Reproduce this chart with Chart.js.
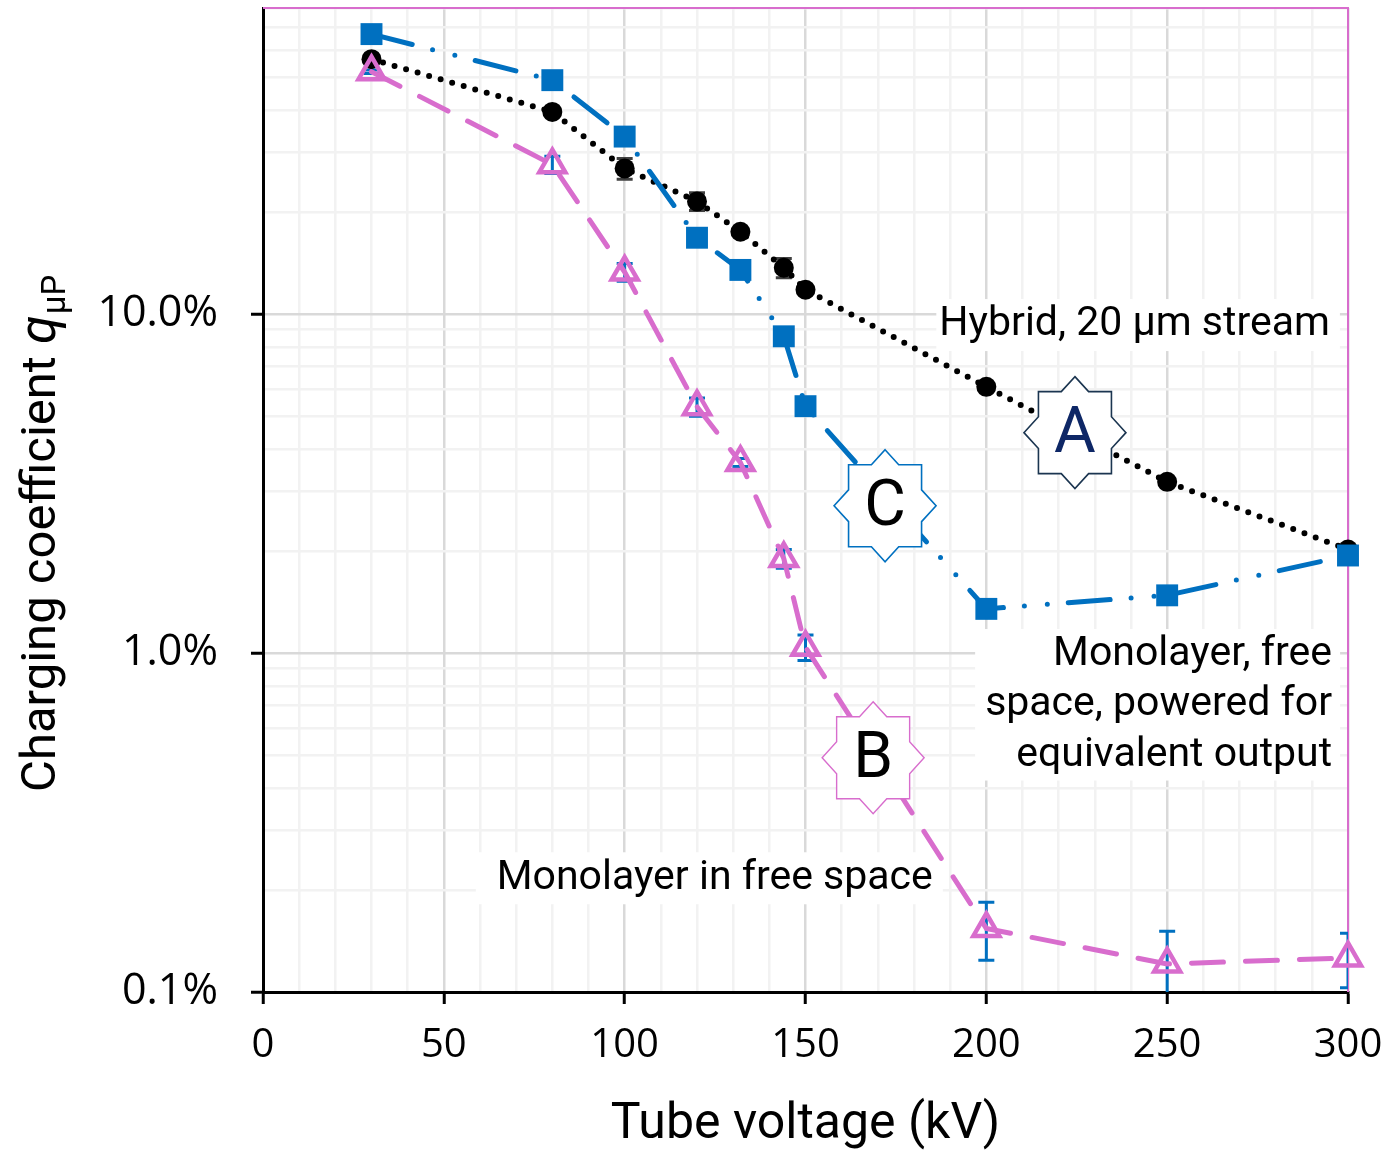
<!DOCTYPE html>
<html>
<head>
<meta charset="utf-8">
<script src="https://cdn.jsdelivr.net/npm/chart.js@4.4.1/dist/chart.umd.min.js"></script>
<style>
  body { margin: 0; background: #fff; }
  #wrap { width: 1385px; height: 1151px; }
</style>
</head>
<body>
<div id="wrap"><canvas id="chart"></canvas></div>
<script>
// tube voltage (kV)
const voltages = [30, 80, 100, 120, 132, 144, 150, 200, 250, 300];
// charging coefficient, percent
const hybrid = [56.5, 39.5, 26.9, 21.5, 17.5, 13.7, 11.8, 6.1, 3.2, 2.02];
const hybridErr = [0.6, 1.0, 1.9, 1.3, 0, 0.9, 0, 0, 0, 0];
const monoPowered = [67, 49, 33.4, 16.8, 13.5, 8.6, 5.35, 1.35, 1.48, 1.94];
const monoFree = [51.9, 27.6, 13.3, 5.33, 3.65, 1.9, 1.04, 0.154, 0.121, 0.126];
const monoFreeErr = [0.6, 1.6, 0.8, 0.33, 0.1, 0.12, 0.09, 0.03, 0.03, 0.023];

const xLabelTicks = [0, 50, 100, 150, 200, 250, 300];
const yMajorTicks = [0.1, 1, 10];
const yTickLabels = ['0.1%', '1.0%', '10.0%'];
const yMax = 80;

const PINK = '#D86DCD';
const BLUE = '#0070C0';

// minor grid values 0.1, 0.2 ... 80
const yGridValues = [];
yMajorTicks.forEach(d => {
    for (let m = 1; m <= 9; m++) {
        const v = Number((m * d).toPrecision(6));
        if (v <= yMax + 1e-9) yGridValues.push(v);
    }
});
const isYMajor = v => yMajorTicks.some(m => Math.abs(m - v) / m < 1e-6);
const isXMajor = v => xLabelTicks.includes(v);

const toPoints = arr => arr.map((y, i) => ({ x: voltages[i], y }));

function drawStar(ctx, cx, cy, letter, stroke, textColor, lw) {
    const rx = 51, ry = 56, hx = 36.5, hy = 41;
    const ix = rx * (1 - hy / ry), iy = ry * (1 - hx / rx);
    const pts = [[0, -ry], [ix, -hy], [hx, -hy], [hx, -iy], [rx, 0], [hx, iy], [hx, hy], [ix, hy],
                 [0, ry], [-ix, hy], [-hx, hy], [-hx, iy], [-rx, 0], [-hx, -iy], [-hx, -hy], [-ix, -hy]];
    ctx.save();
    ctx.beginPath();
    pts.forEach((p, i) => i ? ctx.lineTo(cx + p[0], cy + p[1]) : ctx.moveTo(cx + p[0], cy + p[1]));
    ctx.closePath();
    ctx.fillStyle = '#fff';
    ctx.fill();
    ctx.lineWidth = lw;
    ctx.strokeStyle = stroke;
    ctx.stroke();
    ctx.fillStyle = textColor;
    ctx.font = '64px Roboto';
    ctx.textAlign = 'center';
    ctx.textBaseline = 'middle';
    ctx.fillText(letter, cx, cy + 3);
    ctx.restore();
}

function textBox(ctx, lines, right, top, lineH, boxPad, font) {
    ctx.save();
    ctx.font = font;
    const w = Math.max(...lines.map(l => ctx.measureText(l).width));
    ctx.fillStyle = '#fff';
    ctx.fillRect(right - w - boxPad[0], top - boxPad[1], w + boxPad[0] + boxPad[2], lineH * lines.length + 2 * boxPad[1]);
    ctx.fillStyle = '#000';
    ctx.textAlign = 'right';
    ctx.textBaseline = 'middle';
    lines.forEach((l, i) => ctx.fillText(l, right, top + lineH * (i + 0.5)));
    ctx.restore();
}

const overlays = {
    id: 'overlays',
    beforeDatasetsDraw(chart) {
        const { ctx, chartArea: a, scales: { x, y } } = chart;
        // pink frame top and right
        ctx.save();
        ctx.strokeStyle = PINK;
        ctx.lineWidth = 2;
        ctx.beginPath();
        ctx.moveTo(a.left, a.top);
        ctx.lineTo(a.right, a.top);
        ctx.lineTo(a.right, a.bottom);
        ctx.stroke();
        ctx.restore();

        // label boxes
        const f = '41px Roboto';
        textBox(ctx, ['Hybrid, 20 µm stream'], x.getPixelForValue(295), y.getPixelForValue(9.41) - 24, 52, [3, 0, 10], f);
        textBox(ctx, ['Monolayer, free', 'space, powered for', 'equivalent output'],
            x.getPixelForValue(295.6), y.getPixelForValue(1.0) - 24, 50.5, [10, 0, 8], f);
        textBox(ctx, ['Monolayer in free space'], x.getPixelForValue(185.2), y.getPixelForValue(0.218) - 25, 52, [21, 0, 10], f);

        // error bars
        ctx.save();
        ctx.beginPath();
        ctx.rect(a.left, a.top, a.right - a.left, a.bottom - a.top);
        ctx.clip();
        chart.data.datasets.forEach((ds, di) => {
            if (!ds.errors) return;
            const meta = chart.getDatasetMeta(di);
            ctx.strokeStyle = ds.errorColor;
            ctx.lineWidth = 3;
            ds.errors.forEach((e, j) => {
                if (!e) return;
                const v = ds.data[j].y;
                const px = meta.data[j].x;
                const top = y.getPixelForValue(v + e);
                const bot = v - e > 0 ? y.getPixelForValue(v - e) : a.bottom + 20;
                ctx.beginPath();
                ctx.moveTo(px, top); ctx.lineTo(px, bot);
                ctx.moveTo(px - 8, top); ctx.lineTo(px + 8, top);
                ctx.moveTo(px - 8, bot); ctx.lineTo(px + 8, bot);
                ctx.stroke();
            });
        });
        ctx.restore();
    },
    afterDatasetsDraw(chart) {
        const { ctx, scales: { x, y } } = chart;
        drawStar(ctx, x.getPixelForValue(224.5), y.getPixelForValue(4.47), 'A', '#1B3550', '#0E2766', 1.6);
        drawStar(ctx, x.getPixelForValue(172), y.getPixelForValue(2.72), 'C', BLUE, '#000', 1.6);
        drawStar(ctx, x.getPixelForValue(168.7), y.getPixelForValue(0.491), 'B', PINK, '#000', 1.4);
    },
    afterDraw(chart) {
        const { ctx, chartArea: a } = chart;
        ctx.save();
        ctx.fillStyle = '#000';
        // x title
        ctx.font = '50px Roboto';
        ctx.textAlign = 'center';
        ctx.textBaseline = 'middle';
        ctx.fillText('Tube voltage (kV)', (a.left + a.right) / 2, 1125);
        // y title with italic q and subscript
        ctx.font = '49px Roboto';
        ctx.translate(55, 792);
        ctx.rotate(-Math.PI / 2);
        ctx.textAlign = 'left';
        ctx.textBaseline = 'alphabetic';
        const main = 'Charging coefficient ';
        ctx.fillText(main, 0, 0);
        let off = ctx.measureText(main).width;
        ctx.font = 'italic 52px Roboto';
        ctx.fillText('q', off, 0);
        off += ctx.measureText('q').width + 1;
        ctx.font = '33px Roboto';
        ctx.fillText('µP', off, 10);
        ctx.restore();
    }
};

new Chart(document.getElementById('chart'), {
    type: 'line',
    data: {
        datasets: [
            {
                label: 'Hybrid, 20 µm stream',
                data: toPoints(hybrid),
                errors: hybridErr,
                errorColor: '#404040',
                borderColor: '#000',
                borderWidth: 6,
                borderDash: [0, 12],
                borderCapStyle: 'round',
                pointStyle: 'circle',
                pointRadius: 10,
                pointBackgroundColor: '#000',
                pointBorderWidth: 0,
                order: 3,
                clip: false
            },
            {
                label: 'Monolayer, free space, powered for equivalent output',
                data: toPoints(monoPowered),
                borderColor: BLUE,
                borderWidth: 5,
                borderDash: [42, 21, 0, 23, 0, 21],
                borderCapStyle: 'round',
                pointStyle: 'rect',
                pointRadius: 15.5,
                pointBackgroundColor: BLUE,
                pointBorderWidth: 0,
                order: 2,
                clip: false
            },
            {
                label: 'Monolayer in free space',
                data: toPoints(monoFree),
                errors: monoFreeErr,
                errorColor: BLUE,
                borderColor: PINK,
                borderWidth: 5,
                borderDash: [32, 22],
                borderCapStyle: 'round',
                pointStyle: 'triangle',
                pointRadius: 15,
                pointBackgroundColor: 'rgba(255,255,255,0)',
                pointBorderColor: PINK,
                pointBorderWidth: 4.5,
                order: 1,
                clip: false
            }
        ]
    },
    options: {
        responsive: true,
        maintainAspectRatio: false,
        animation: false,
        events: [],
        layout: { autoPadding: false, padding: { top: 8, right: 37, bottom: 0, left: 0 } },
        plugins: { legend: { display: false }, tooltip: { enabled: false } },
        scales: {
            x: {
                type: 'linear',
                min: 0,
                max: 300,
                afterFit: s => { s.height = 159; s.paddingLeft = 0; s.paddingRight = 0; },
                border: { color: '#000', width: 3 },
                grid: {
                    color: c => isXMajor(c.tick.value) ? '#D9D9D9' : '#F2F2F2',
                    lineWidth: 2.5,
                    tickLength: 12,
                    tickColor: c => isXMajor(c.tick.value) ? '#000' : 'rgba(0,0,0,0)',
                    tickWidth: 3
                },
                ticks: {
                    stepSize: 10,
                    autoSkip: false,
                    maxRotation: 0,
                    padding: 18,
                    color: '#000',
                    font: { family: 'Open Sans', size: 40 },
                    callback: v => isXMajor(v) ? String(v) : ''
                }
            },
            y: {
                type: 'logarithmic',
                min: 0.1,
                max: yMax,
                afterFit: s => { s.width = 263; s.paddingTop = 0; s.paddingBottom = 0; },
                afterBuildTicks: s => { s.ticks = yGridValues.map(v => ({ value: v })); },
                border: { color: '#000', width: 3 },
                grid: {
                    color: c => isYMajor(c.tick.value) ? '#D9D9D9' : '#F2F2F2',
                    lineWidth: 2.5,
                    tickLength: 12,
                    tickColor: c => isYMajor(c.tick.value) ? '#000' : 'rgba(0,0,0,0)',
                    tickWidth: 3
                },
                ticks: {
                    autoSkip: false,
                    padding: 33,
                    color: '#000',
                    font: { family: 'Open Sans', size: 43 },
                    callback: v => {
                        const k = yMajorTicks.findIndex(m => Math.abs(m - v) / m < 1e-6);
                        return k >= 0 ? yTickLabels[k] : '';
                    }
                }
            }
        }
    },
    plugins: [overlays]
});
</script>
</body>
</html>
